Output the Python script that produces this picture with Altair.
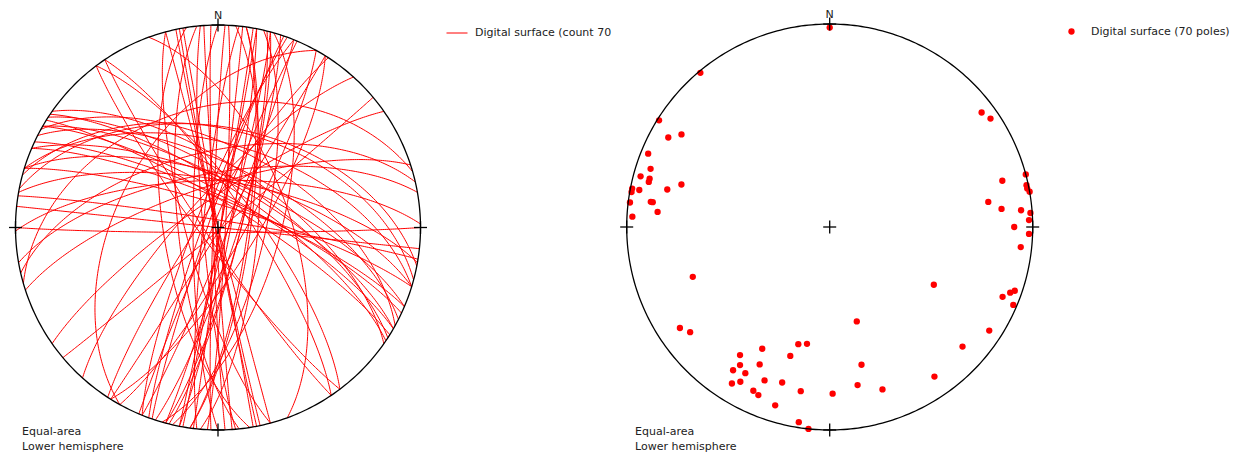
import numpy as np
import pandas as pd
import altair as alt

# Pole orientations (trend / plunge, degrees) of the 70 digitised surfaces
pole_trend = [0, 320, 302, 299, 302, 292, 288, 285, 285, 284, 286, 283, 281, 281, 280, 277, 278, 275, 273,
              53, 56, 75, 75, 78, 80, 81, 84, 85, 86, 88, 90,
              92, 96, 119, 109, 110, 112, 113, 123, 164, 132, 167, 145, 170, 162, 179,
              250, 236, 233, 209, 195, 191, 215, 197, 213, 207, 214, 210, 203, 197, 212, 210, 205, 190, 203, 197, 189, 186,
              278, 79]
pole_plunge = [2, 1, 1, 10, 15, 4, 8, 4, 9, 9, 25, 19, 5, 1, 1, 1, 12, 16, 3,
               7, 5, 0, 13, 1, 0, 22, 16, 6, 1, 2, 10,
               2, 6, 41, 4, 6, 9, 2, 7, 50, 13, 31, 11, 22, 17, 19,
               29, 12, 15, 32, 40, 41, 24, 34, 20, 25, 16, 18, 19, 21, 10, 13, 12, 19, 11, 9, 3, 0,
               13, 1]

LEFT_LABEL = "Digital surface (count 70"
RIGHT_LABEL = "Digital surface (70 poles)"
FOOT = ["Equal-area", "Lower hemisphere"]
FONT = "DejaVu Sans"

t = np.radians(np.array(pole_trend, dtype=float))
p = np.radians(np.array(pole_plunge, dtype=float))

# Equal-area (Schmidt) lower-hemisphere projection of poles, unit radius
e = np.cos(p) * np.sin(t)
n = np.cos(p) * np.cos(t)
d = np.sin(p)
poles = pd.DataFrame({"x": e / np.sqrt(1 + d), "y": n / np.sqrt(1 + d), "series": RIGHT_LABEL})

# Great circles of the planes whose poles are above
theta = np.linspace(0, np.pi, 181)
rows = []
for i, (ti, pi_) in enumerate(zip(t, p)):
    u1 = np.array([np.cos(ti), -np.sin(ti), 0.0])
    u2 = np.array([-np.sin(pi_) * np.sin(ti), -np.sin(pi_) * np.cos(ti), np.cos(pi_)])
    v = np.outer(np.cos(theta), u1) + np.outer(np.sin(theta), u2)
    dd = np.clip(v[:, 2], 0, 1)
    gx = v[:, 0] / np.sqrt(1 + dd)
    gy = v[:, 1] / np.sqrt(1 + dd)
    for k in range(len(theta)):
        rows.append({"plane": i, "k": k, "x": gx[k], "y": gy[k], "series": LEFT_LABEL})
circles = pd.DataFrame(rows)

# Primitive circle of the net
ang = np.radians(np.arange(0, 361, 1))
prim = pd.DataFrame({"x": np.sin(ang), "y": np.cos(ang), "k": np.arange(len(ang))})

# Crosses at centre and cardinal points
a = 0.032
cx = [0, 1, -1, 0, 0]
cy = [0, 0, 0, 1, -1]
cross_rows = []
for X, Y in zip(cx, cy):
    cross_rows.append({"x": X - a, "x2": X + a, "y": Y, "y2": Y})
    cross_rows.append({"x": X, "x2": X, "y": Y - a, "y2": Y + a})
crosses = pd.DataFrame(cross_rows)
north = pd.DataFrame({"x": [0], "y": [1], "label": ["N"]})


def panel(xdom, ydom, width, height, data_layer, foot_dx):
    xs = alt.Scale(domain=xdom, nice=False, zero=False)
    ys = alt.Scale(domain=ydom, nice=False, zero=False)
    prim_l = alt.Chart(prim).mark_line(color="black", strokeWidth=1.3).encode(
        x=alt.X("x:Q", scale=xs, axis=None), y=alt.Y("y:Q", scale=ys, axis=None), order="k:Q")
    cross_l = alt.Chart(crosses).mark_rule(color="black", strokeWidth=1.3).encode(
        x=alt.X("x:Q", scale=xs, axis=None), x2="x2:Q",
        y=alt.Y("y:Q", scale=ys, axis=None), y2="y2:Q")
    n_l = alt.Chart(north).mark_text(font=FONT, fontSize=11, dy=-6, baseline="alphabetic",
                                     color="#222").encode(
        x=alt.X("x:Q", scale=xs, axis=None), y=alt.Y("y:Q", scale=ys, axis=None), text="label:N")
    return alt.layer(data_layer(xs, ys), prim_l, cross_l, n_l).properties(
        width=width, height=height,
        title=alt.TitleParams(FOOT, orient="bottom", anchor="start", frame="group",
                              offset=-19, dx=foot_dx, font=FONT, fontSize=11,
                              fontWeight="normal", lineHeight=14.5, baseline="top",
                              color="#222"))


def left_layer(xs, ys):
    return alt.Chart(circles).mark_line(strokeWidth=1).encode(
        x=alt.X("x:Q", scale=xs, axis=None), y=alt.Y("y:Q", scale=ys, axis=None),
        detail="plane:N", order="k:Q",
        color=alt.Color("series:N", scale=alt.Scale(domain=[LEFT_LABEL], range=["#ff0000"]),
                        legend=alt.Legend(title=None, orient="none", legendX=435, legendY=13,
                                          symbolType="stroke", symbolSize=441,
                                          symbolStrokeWidth=1, labelFont=FONT,
                                          labelFontSize=11, labelOffset=7, labelColor="#222",
                                          padding=0, labelLimit=400)))


def right_layer(xs, ys):
    return alt.Chart(poles).mark_circle(size=40, opacity=1).encode(
        x=alt.X("x:Q", scale=xs, axis=None), y=alt.Y("y:Q", scale=ys, axis=None),
        color=alt.Color("series:N", scale=alt.Scale(domain=[RIGHT_LABEL], range=["#ff0000"]),
                        legend=alt.Legend(title=None, orient="none", legendX=447, legendY=17,
                                          symbolType="circle", symbolSize=40,
                                          symbolOpacity=1, labelFont=FONT,
                                          labelFontSize=11, labelOffset=14, labelColor="#222",
                                          padding=0, labelLimit=400)))


left = panel([-1.02222, 1.98025], [-1.07407, 1.07901], 608, 436, left_layer, 11)
right = panel([-1.03793, 1.91769], [-1.07389, 1.07389], 600, 436, right_layer, 16)

chart = alt.hconcat(left, right, spacing=0).resolve_scale(
    color="independent", x="independent", y="independent").resolve_legend(
    color="independent").properties(padding=0).configure_view(stroke=None)

chart.save("out.html", embed_options={"renderer": "svg", "actions": False})
